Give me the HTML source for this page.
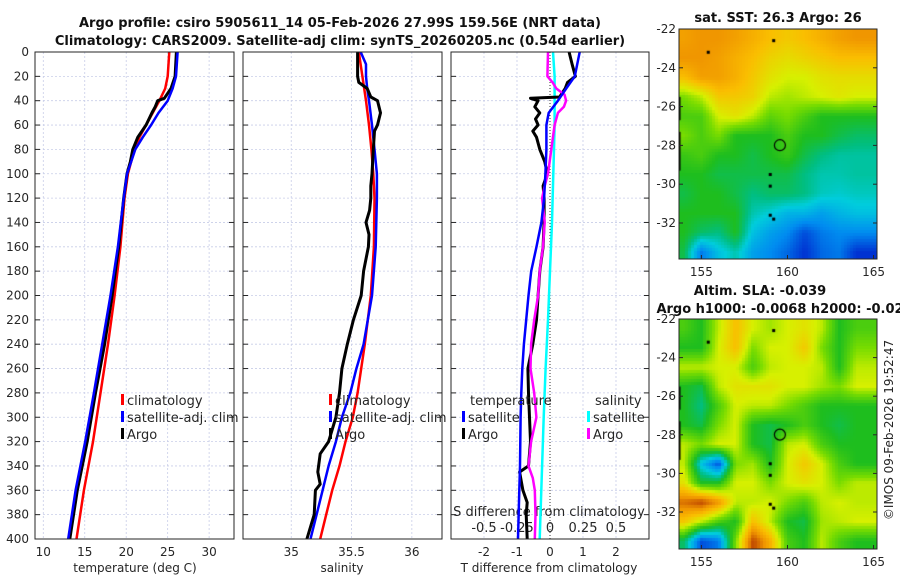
<!DOCTYPE html>
<html><head><meta charset="utf-8">
<style>
html,body{margin:0;padding:0;background:#fff;}
#wrap{position:relative;width:900px;height:580px;overflow:hidden;font-family:"Liberation Sans","DejaVu Sans",sans-serif;}
svg text{font-family:"DejaVu Sans","Liberation Sans",sans-serif;}
canvas{position:absolute;}
</style></head>
<body>
<div id="wrap">
<canvas id="sst" width="198" height="230" style="left:679px;top:29px"></canvas>
<canvas id="sla" width="198" height="230" style="left:679px;top:319px"></canvas>
<svg id="svg" width="900" height="580" style="position:absolute;left:0;top:0" xmlns="http://www.w3.org/2000/svg">
<text x="340" y="27" font-size="13" font-weight="bold" text-anchor="middle" fill="#111">Argo profile: csiro 5905611_14 05-Feb-2026 27.99S 159.56E (NRT data)</text>
<text x="340" y="45" font-size="13" font-weight="bold" text-anchor="middle" fill="#111">Climatology: CARS2009. Satellite-adj clim: synTS_20260205.nc (0.54d earlier)</text>
<text x="778" y="22" font-size="13" font-weight="bold" text-anchor="middle" fill="#111">sat. SST: 26.3 Argo: 26</text>
<text x="760" y="295" font-size="13" font-weight="bold" text-anchor="middle" fill="#111">Altim. SLA: -0.039</text>
<text x="780" y="313" font-size="13" font-weight="bold" text-anchor="middle" fill="#111">Argo h1000: -0.0068 h2000: -0.02</text>
<text transform="translate(893,430) rotate(-90)" font-size="12" text-anchor="middle" fill="#262626">©IMOS 09-Feb-2026 19:52:47</text>
<g id="g"></g>
</svg>
</div>
<script>
// ---------- data ----------
const depthT_clim = [0,20,30,40,50,60,70,80,90,100,120,160,200,240,280,320,360,400];
const temp_clim   = [25.2,25.0,24.7,24.0,23.2,22.4,21.6,21.0,20.6,20.2,19.8,19.3,18.6,17.8,16.9,16.0,14.9,14.0];
const temp_sat    = [26.2,26.0,25.6,25.0,23.9,23.0,22.0,21.1,20.6,20.1,19.7,19.0,18.1,17.1,16.1,15.05,13.9,13.0];
const depthT_argo = [0,20,30,38,40,45,50,60,70,80,90,100,120,160,200,240,280,320,360,400];
const temp_argo   = [26.05,25.9,25.4,24.6,23.8,23.5,23.1,22.4,21.4,20.8,20.5,20.1,19.7,19.1,18.3,17.4,16.3,15.3,14.1,13.2];

const depthS_clim = [0,20,40,60,80,100,120,160,200,240,280,300,320,340,360,380,400];
const sal_clim    = [35.56,35.59,35.62,35.645,35.665,35.68,35.69,35.685,35.66,35.61,35.55,35.51,35.45,35.40,35.34,35.29,35.24];
const depthS_sat  = [0,10,20,30,40,60,80,100,120,160,200,240,260,280,300,320,340,360,380,400];
const sal_sat     = [35.576,35.62,35.62,35.63,35.645,35.67,35.69,35.71,35.71,35.70,35.67,35.60,35.54,35.49,35.42,35.37,35.31,35.26,35.21,35.16];
const depthS_argo = [0,10,20,25,30,37,40,50,60,65,80,100,110,120,130,140,150,160,180,200,220,240,260,280,300,320,330,345,355,360,380,400];
const sal_argo    = [35.55,35.55,35.55,35.56,35.63,35.66,35.715,35.74,35.715,35.69,35.68,35.67,35.66,35.66,35.65,35.62,35.645,35.64,35.60,35.58,35.515,35.465,35.42,35.40,35.37,35.31,35.24,35.22,35.24,35.20,35.19,35.13];

const depthD_sat   = [0,20,30,40,50,60,80,100,120,140,160,180,200,220,240,260,280,300,340,360,400];
const tdiff_sat    = [0.90,0.75,0.49,0.24,-0.04,-0.11,-0.11,-0.14,-0.18,-0.26,-0.41,-0.57,-0.65,-0.72,-0.79,-0.84,-0.87,-0.89,-0.91,-0.93,-0.97];
const depthD_argo  = [0,10,20,25,30,37,38,40,45,50,55,60,65,70,80,90,100,110,120,140,160,180,200,220,240,260,280,300,320,340,345,360,370,380,400];
const tdiff_argo   = [0.58,0.67,0.77,0.53,0.46,0.29,-0.59,-0.36,-0.46,-0.31,-0.44,-0.36,-0.52,-0.41,-0.31,-0.16,-0.08,-0.21,-0.18,-0.18,-0.21,-0.31,-0.36,-0.41,-0.52,-0.67,-0.65,-0.62,-0.59,-0.65,-0.92,-0.82,-0.69,-0.72,-0.69];
const depthDS_sat  = [0,20,40,60,80,100,140,180,220,260,300,340,400];
const sdiff_sat    = [0.023,0.035,0.035,0.035,0.03,0.025,0.015,0,-0.015,-0.033,-0.048,-0.06,-0.078];
const depthDS_argo = [0,20,25,30,35,40,45,50,60,80,100,110,120,140,160,180,200,220,240,260,280,300,320,340,350,360,380,400];
const sdiff_argo   = [-0.015,-0.02,0.02,0.048,0.11,0.122,0.105,0.06,0.035,0.01,-0.015,-0.04,-0.06,-0.04,-0.053,-0.078,-0.09,-0.12,-0.143,-0.148,-0.12,-0.103,-0.143,-0.163,-0.13,-0.115,-0.11,-0.115];

const depthTicks = [0,20,40,60,80,100,120,140,160,180,200,220,240,260,280,300,320,340,360,380,400];
const tTicks = [10,15,20,25,30];
const sTicks = [35,35.5,36];
const dTicks = [-2,-1,0,1,2];
const sdTicks = [-0.5,-0.25,0,0.25,0.5];
const sdTickLabels = ["-0.5","-0.25","0","0.25","0.5"];
const latTicks = [-22,-24,-26,-28,-30,-32];
const lonTicks = [155,160,165];

const sstGrid = [
[0.78,0.8,0.8,0.78,0.75,0.72,0.7,0.72,0.75,0.78,0.8],
[0.8,0.8,0.78,0.75,0.72,0.68,0.66,0.68,0.7,0.72,0.72],
[0.72,0.78,0.78,0.75,0.7,0.65,0.62,0.62,0.65,0.66,0.66],
[0.55,0.6,0.7,0.7,0.68,0.6,0.58,0.6,0.62,0.64,0.62],
[0.5,0.5,0.62,0.65,0.6,0.52,0.55,0.5,0.45,0.45,0.45],
[0.55,0.5,0.55,0.45,0.45,0.45,0.5,0.45,0.45,0.42,0.4],
[0.48,0.5,0.45,0.45,0.42,0.45,0.48,0.42,0.38,0.36,0.36],
[0.45,0.45,0.42,0.42,0.42,0.42,0.42,0.38,0.35,0.35,0.36],
[0.42,0.45,0.45,0.42,0.38,0.4,0.4,0.38,0.34,0.33,0.34],
[0.45,0.45,0.45,0.45,0.35,0.32,0.28,0.28,0.25,0.28,0.3],
[0.45,0.4,0.38,0.45,0.3,0.25,0.22,0.15,0.2,0.22,0.22],
[0.42,0.2,0.3,0.35,0.25,0.22,0.18,0.12,0.18,0.2,0.12]];
const slaGrid = [
[0.5,0.45,0.6,0.72,0.62,0.58,0.62,0.65,0.6,0.45,0.5],
[0.45,0.45,0.62,0.72,0.55,0.62,0.62,0.7,0.55,0.45,0.55],
[0.6,0.6,0.62,0.62,0.5,0.6,0.62,0.62,0.6,0.45,0.6],
[0.45,0.42,0.6,0.65,0.65,0.65,0.62,0.62,0.58,0.55,0.62],
[0.45,0.38,0.5,0.62,0.6,0.6,0.55,0.5,0.45,0.45,0.45],
[0.45,0.42,0.55,0.62,0.45,0.42,0.45,0.5,0.45,0.42,0.45],
[0.6,0.55,0.62,0.62,0.45,0.42,0.6,0.62,0.5,0.45,0.45],
[0.6,0.3,0.15,0.55,0.58,0.45,0.62,0.7,0.62,0.5,0.45],
[0.65,0.45,0.45,0.62,0.62,0.55,0.62,0.65,0.62,0.55,0.6],
[0.85,0.9,0.8,0.6,0.6,0.62,0.55,0.5,0.6,0.62,0.6],
[0.7,0.6,0.5,0.45,0.72,0.6,0.45,0.42,0.58,0.6,0.62],
[0.4,0.15,0.2,0.55,0.9,0.75,0.5,0.45,0.6,0.5,0.45]];
const argoLon = 159.56, argoLat = -27.99;

// ---------- helpers ----------
const NS="http://www.w3.org/2000/svg";
const G=document.getElementById('g');
function mk(tag,attrs,parent){const e=document.createElementNS(NS,tag);for(const k in attrs)e.setAttribute(k,attrs[k]);(parent||G).appendChild(e);return e;}
const Y0=52,Y1=539;
const yD=d=>Y0+(d/400)*(Y1-Y0);
function xs(x0,x1,a,b){return v=>x0+(v-a)/(b-a)*(x1-x0);}
const P=[{x0:35,x1:234,f:xs(35,234,9,33)},{x0:243,x1:442,f:xs(243,442,34.6,36.25)},{x0:451,x1:649,f:xs(451,649,-3,3)}];
const fSD=xs(451,649,-0.75,0.75);

function txt(x,y,s,size,anchor,name,fill){const t=mk('text',{x:x,y:y,'font-size':size||12,'text-anchor':anchor||'middle',fill:fill||'#262626'});t.textContent=s;return t;}

P.forEach((p,i)=>{
  const g=mk('g',{});
  
  
  depthTicks.forEach(d=>{
    if(d>0&&d<400) mk('line',{x1:p.x0,x2:p.x1,y1:yD(d),y2:yD(d),stroke:'#c8cde8','stroke-width':0.8,'stroke-dasharray':'2,2'},g);
    mk('line',{x1:p.x0,x2:p.x0+5,y1:yD(d),y2:yD(d),stroke:'#262626','stroke-width':1},g);
    mk('line',{x1:p.x1-5,x2:p.x1,y1:yD(d),y2:yD(d),stroke:'#262626','stroke-width':1},g);
  });
});
tTicks.forEach(v=>{const x=P[0].f(v);const l=mk('line',{x1:x,x2:x,y1:Y0,y2:Y1,stroke:'#c8cde8','stroke-width':0.8,'stroke-dasharray':'2,2'});txt(x,556,String(v),12,'middle','temp-tick-label');});
sTicks.forEach(v=>{const x=P[1].f(v);const l=mk('line',{x1:x,x2:x,y1:Y0,y2:Y1,stroke:'#c8cde8','stroke-width':0.8,'stroke-dasharray':'2,2'});txt(x,556,String(v),12,'middle','sal-tick-label');});
dTicks.forEach(v=>{const x=P[2].f(v);if(v!==0){const l=mk('line',{x1:x,x2:x,y1:Y0,y2:Y1,stroke:'#c8cde8','stroke-width':0.8,'stroke-dasharray':'2,2'});}txt(x,556,String(v),12,'middle','tdiff-tick-label');});
sdTicks.forEach((v,i)=>{txt(fSD(v),532,sdTickLabels[i],13,'middle','sdiff-tick-label');});
{const l=mk('line',{x1:P[2].f(0),x2:P[2].f(0),y1:Y0,y2:Y1,stroke:'#333','stroke-width':1,'stroke-dasharray':'1,2'});}
depthTicks.forEach(d=>txt(29,yD(d)+4,String(d),12,'end','depth-tick-label'));
txt(135,572,'temperature (deg C)',12,'middle','temp-axis-title');
txt(342,572,'salinity',12,'middle','sal-axis-title');
txt(549,572,'T difference from climatology',12,'middle','tdiff-axis-title');
txt(549,516,'S difference from climatology',13,'middle','sdiff-axis-title');

function series(xa,da,fx,color,name,w){
  const pts=xa.map((v,i)=>fx(v).toFixed(1)+','+yD(da[i]).toFixed(1)).join(' ');
  const p=mk('polyline',{points:pts,fill:'none',stroke:color,'stroke-width':w||2.5,'stroke-linejoin':'round'});
  
  
}
series(temp_clim,depthT_clim,P[0].f,'#ff0000','temp-climatology-line');
series(temp_argo,depthT_argo,P[0].f,'#000000','temp-argo-line',3);
series(temp_sat,depthT_clim,P[0].f,'#0000ff','temp-satellite-line');
series(sal_clim,depthS_clim,P[1].f,'#ff0000','sal-climatology-line');
series(sal_sat,depthS_sat,P[1].f,'#0000ff','sal-satellite-line');
series(sal_argo,depthS_argo,P[1].f,'#000000','sal-argo-line',3);
series(sdiff_sat,depthDS_sat,fSD,'#00ffff','sdiff-satellite-line');
series(tdiff_argo,depthD_argo,P[2].f,'#000000','tdiff-argo-line',3);
series(sdiff_argo,depthDS_argo,fSD,'#ff00ff','sdiff-argo-line');
series(tdiff_sat,depthD_sat,P[2].f,'#0000ff','tdiff-satellite-line');

P.forEach((p,i)=>{const r=mk('rect',{x:p.x0,y:Y0,width:p.x1-p.x0,height:Y1-Y0,fill:'none',stroke:'#262626','stroke-width':1});});

function legItem(x,y,color,label,name){
  const g=mk('g',{});
  
  
  mk('rect',{x:x,y:y-11,width:3,height:11,fill:color},g);
  const t=mk('text',{x:x+6,y:y,'font-size':13,fill:'#262626'},g);t.textContent=label;
}
legItem(121,405,'#ff0000','climatology','legend-temp-climatology');
legItem(121,422,'#0000ff','satellite-adj. clim','legend-temp-satellite');
legItem(121,439,'#000000','Argo','legend-temp-argo');
legItem(329,405,'#ff0000','climatology','legend-sal-climatology');
legItem(329,422,'#0000ff','satellite-adj. clim','legend-sal-satellite');
legItem(329,439,'#000000','Argo','legend-sal-argo');
txt(470,405,'temperature',13,'start','legend-temperature-header');
legItem(462,422,'#0000ff','satellite','legend-tdiff-satellite');
legItem(462,439,'#000000','Argo','legend-tdiff-argo');
txt(595,405,'salinity',13,'start','legend-salinity-header');
legItem(587,422,'#00ffff','satellite','legend-sdiff-satellite');
legItem(587,439,'#ff00ff','Argo','legend-sdiff-argo');

// ---------- maps ----------
const cmapStops=[[0,[0,0,140]],[0.12,[0,50,210]],[0.22,[0,140,240]],[0.32,[0,205,220]],[0.38,[0,190,130]],[0.45,[30,190,30]],[0.55,[120,220,0]],[0.62,[215,240,0]],[0.72,[250,190,0]],[0.8,[240,150,0]],[0.9,[190,70,0]],[1,[140,20,0]]];
function cmap(v){v=Math.max(0,Math.min(1,v));
  for(let k=1;k<cmapStops.length;k++){const a=cmapStops[k-1],b=cmapStops[k];
    if(v<=b[0]){const t=(v-a[0])/(b[0]-a[0]);return a[1].map((c,i)=>Math.round(c+(b[1][i]-c)*t));}}
  return cmapStops[cmapStops.length-1][1];}
const LON0=153.7,LON1=165.2;
function drawMap(id,grid,latScale){
  const c=document.getElementById(id),ctx=c.getContext('2d');
  const W=198,H=230,s=3;
  const rows=grid.length,cols=grid[0].length;
  for(let py=0;py<H;py+=s)for(let px=0;px<W;px+=s){
    const lon=LON0+(px+1.5)/W*(LON1-LON0);
    const lat=-22-(py+1.5)/latScale;
    let fx=lon-154, fy=(-22.5-lat);
    fx=Math.max(0,Math.min(cols-1.001,fx));fy=Math.max(0,Math.min(rows-1.001,fy));
    const i=Math.floor(fy),j=Math.floor(fx),u=fx-j,v=fy-i;
    const val=grid[i][j]*(1-u)*(1-v)+grid[i][j+1]*u*(1-v)+grid[i+1][j]*(1-u)*v+grid[i+1][j+1]*u*v;
    const [r,g,b]=cmap(val);ctx.fillStyle='rgb('+r+','+g+','+b+')';ctx.fillRect(px,py,s,s);
  }
  ctx.fillStyle='#000';
  [[155.4,-23.2],[159.2,-22.6],[159.0,-29.5],[159.0,-30.1],[159.0,-31.6],[159.2,-31.8]].forEach(p=>{
    const x=(p[0]-LON0)/(LON1-LON0)*W,y=(-22-p[1])*latScale;ctx.fillRect(x-1.5,y-1.5,3,3);});
  ctx.fillRect(0,(-22+25.5)*latScale,1.5,latScale*1.2);
  ctx.fillRect(0,(-22+27.3)*latScale,1.5,latScale*2);
  const ax=(argoLon-LON0)/(LON1-LON0)*W,ay=(-22-argoLat)*latScale;
  ctx.strokeStyle='#000';ctx.lineWidth=1.2;ctx.beginPath();ctx.arc(ax,ay,5.5,0,Math.PI*2);ctx.stroke();
}
drawMap('sst',sstGrid,19.4);
drawMap('sla',slaGrid,19.3);
[[29,19.4,'sst'],[319,19.3,'sla']].forEach(m=>{
  const r=mk('rect',{x:679,y:m[0],width:198,height:230,fill:'none',stroke:'#262626','stroke-width':1});
  
  latTicks.forEach(l=>{const y=m[0]+(-22-l)*m[1];
    mk('line',{x1:679,x2:683,y1:y,y2:y,stroke:'#262626'});mk('line',{x1:873,x2:877,y1:y,y2:y,stroke:'#262626'});
    txt(676,y+4,String(l),12,'end',m[2]+'-lat-label');});
  lonTicks.forEach(l=>{const x=679+(l-LON0)/(LON1-LON0)*198;
    mk('line',{x1:x,x2:x,y1:m[0]+226,y2:m[0]+230,stroke:'#262626'});
    txt(x,m[0]+247,String(l),12,'middle',m[2]+'-lon-label');});
});
</script>
</body></html>
